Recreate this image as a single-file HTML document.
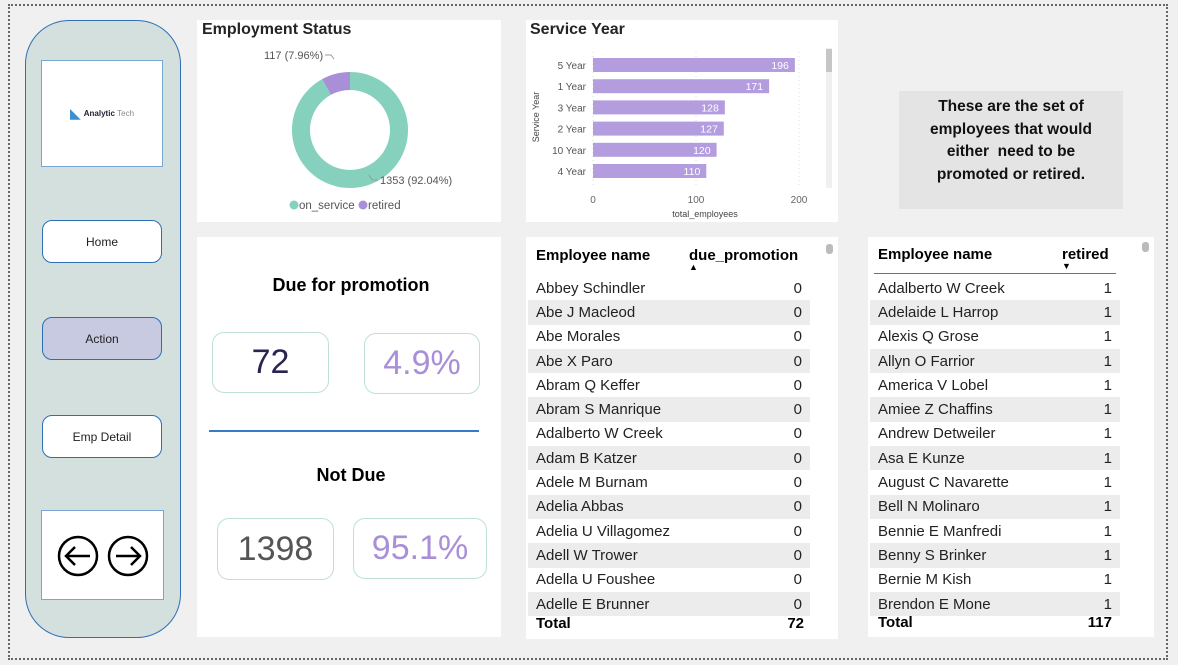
<!DOCTYPE html>
<html><head><meta charset="utf-8">
<style>
body{margin:0;width:1178px;height:665px;background:#f0f0f0;font-family:"Liberation Sans","DejaVu Sans",sans-serif;position:relative;overflow:hidden}
.abs{position:absolute;box-sizing:border-box}
.card{background:#fff}
.btn{background:#fff;border:1px solid #2e6eb5;border-radius:10px;font-size:12px;display:flex;align-items:center;justify-content:center;color:#222}
.kpi{border:1px solid #bfe0d8;border-radius:12px;display:flex;align-items:center;justify-content:center;font-size:34px}
table{border-collapse:collapse;font-size:15px;color:#222}
.tbl td{height:24.3px;padding:0 8px;white-space:nowrap}
.tbl tr:nth-child(even) td{background:#ececec}
</style></head><body>
<div class="abs" style="left:8px;top:4px;width:1160px;height:656px;border:2px dotted #666"></div>

<div class="abs" style="left:25px;top:20px;width:156px;height:618px;background:#d3e0de;border:1.5px solid #2e6eb5;border-radius:44px"></div>
<div class="abs" style="left:41px;top:60px;width:122px;height:107px;background:#fff;border:1.5px solid #7aa3d6;display:flex;align-items:center;justify-content:center;font-size:8px;font-weight:bold;color:#223">
<span style="color:#3a8fd0;font-size:14px;margin-right:3px">◣</span>Analytic <span style="font-weight:normal;color:#888">&nbsp;Tech</span></div>
<div class="abs btn" style="left:42px;top:220px;width:120px;height:43px">Home</div>
<div class="abs btn" style="left:42px;top:317px;width:120px;height:43px;background:#c8cae2">Action</div>
<div class="abs btn" style="left:42px;top:415px;width:120px;height:43px">Emp Detail</div>
<div class="abs" style="left:41px;top:510px;width:123px;height:90px;background:#fff;border:1.5px solid #7aa3d6"></div>
<svg class="abs" style="left:41px;top:510px" width="123" height="90">
<g><circle cx="37" cy="46" r="19" fill="none" stroke="#000" stroke-width="2.5"/><path d="M49 46H26M34 37l-9 9 9 9" fill="none" stroke="#000" stroke-width="2.5"/></g>
<g><circle cx="87" cy="46" r="19" fill="none" stroke="#000" stroke-width="2.5"/><path d="M75 46H98M90 37l9 9-9 9" fill="none" stroke="#000" stroke-width="2.5"/></g>
</svg>

<div class="abs card" style="left:197px;top:20px;width:304px;height:202px"></div>
<div class="abs" style="left:202px;top:21px;font-size:16px;font-weight:bold;color:#252423">Employment Status</div>
<svg class="abs" id="donut" style="left:197px;top:20px" width="304" height="202"></svg>

<div class="abs card" style="left:526px;top:20px;width:312px;height:202px"></div>
<div class="abs" style="left:530px;top:21px;font-size:16px;font-weight:bold;color:#252423">Service Year</div>
<svg class="abs" id="bars" style="left:526px;top:20px" width="312" height="202"></svg>

<div class="abs" style="left:899px;top:91px;width:224px;height:118px;background:#e4e4e4;font-size:15.5px;font-weight:bold;text-align:center;line-height:22.5px;padding:5px 14px 0;color:#111">These are the set of employees that would either&nbsp; need to be promoted or retired.</div>

<div class="abs card" style="left:197px;top:237px;width:304px;height:400px"></div>
<div class="abs" style="left:197px;top:275px;width:308px;text-align:center;font-size:18px;font-weight:bold">Due for promotion</div>
<div class="abs kpi" style="left:212px;top:332px;width:117px;height:61px;color:#2b2450">72</div>
<div class="abs kpi" style="left:364px;top:333px;width:116px;height:61px;color:#a98fd8">4.9%</div>
<div class="abs" style="left:209px;top:430px;width:270px;height:2px;background:#3a7bc8"></div>
<div class="abs" style="left:197px;top:465px;width:308px;text-align:center;font-size:18px;font-weight:bold">Not Due</div>
<div class="abs kpi" style="left:217px;top:518px;width:117px;height:62px;color:#555">1398</div>
<div class="abs kpi" style="left:353px;top:518px;width:134px;height:61px;color:#a98fd8">95.1%</div>

<div class="abs card" style="left:526px;top:237px;width:312px;height:402px"></div>
<div class="abs" style="left:536px;top:247px;font-size:15px;font-weight:bold">Employee name</div>
<div class="abs" style="left:689px;top:247px;font-size:15px;font-weight:bold">due_promotion<div style="font-size:9px;margin-top:-2px">▲</div></div>
<div class="abs" style="left:826px;top:244px;width:7px;height:10px;background:#bbb;border-radius:3px"></div>
<table class="abs tbl" id="t1" style="left:528px;top:276px;width:282px"></table>
<div class="abs" style="left:536px;top:615px;width:268px;font-size:15px;font-weight:bold;display:flex;justify-content:space-between"><span>Total</span><span>72</span></div>

<div class="abs card" style="left:868px;top:237px;width:286px;height:400px"></div>
<div class="abs" style="left:878px;top:246px;font-size:15px;font-weight:bold">Employee name</div>
<div class="abs" style="left:1062px;top:246px;font-size:15px;font-weight:bold">retired<div style="font-size:9px;margin-top:-2px">▼</div></div>
<div class="abs" style="left:874px;top:273px;width:242px;height:1px;background:#3a7bc8"></div>
<div class="abs" style="left:1142px;top:242px;width:7px;height:10px;background:#bbb;border-radius:3px"></div>
<table class="abs tbl" id="t2" style="left:870px;top:276px;width:250px"></table>
<div class="abs" style="left:878px;top:614px;width:234px;font-size:15px;font-weight:bold;display:flex;justify-content:space-between"><span>Total</span><span>117</span></div>

<script>
const statusCats=["on_service","retired"];
const statusVals=[1353,117];
const statusColors=["#86d1bd","#a98fd8"];
const yearCats=["5 Year","1 Year","3 Year","2 Year","10 Year","4 Year"];
const yearVals=[196,171,128,127,120,110];
const xTicks=[0,100,200];
const promoNames=["Abbey Schindler","Abe J Macleod","Abe Morales","Abe X Paro","Abram Q Keffer","Abram S Manrique","Adalberto W Creek","Adam B Katzer","Adele M Burnam","Adelia Abbas","Adelia U Villagomez","Adell W Trower","Adella U Foushee","Adelle E Brunner"];
const promoVals=[0,0,0,0,0,0,0,0,0,0,0,0,0,0];
const retNames=["Adalberto W Creek","Adelaide L Harrop","Alexis Q Grose","Allyn O Farrior","America V Lobel","Amiee Z Chaffins","Andrew Detweiler","Asa E Kunze","August C Navarette","Bell N Molinaro","Bennie E Manfredi","Benny S Brinker","Bernie M Kish","Brendon E Mone"];
const retVals=[1,1,1,1,1,1,1,1,1,1,1,1,1,1];
const NS="http://www.w3.org/2000/svg";
function mk(p,t,a,txt){const e=document.createElementNS(NS,t);for(const k in a)e.setAttribute(k,a[k]);if(txt!=null)e.textContent=txt;p.appendChild(e);return e;}
// donut: on_service clockwise from top, retired fills the remaining wedge just left of top
const d=document.getElementById("donut");
const cx=153,cy=110,R=58,r=40,tot=statusVals.reduce((a,b)=>a+b,0);
let ang=0;
statusVals.forEach((v,i)=>{
 const a0=ang,a1=ang+v/tot*2*Math.PI;ang=a1;
 const p=(a,rr)=>[cx+rr*Math.sin(a),cy-rr*Math.cos(a)];
 const [x0,y0]=p(a0,R),[x1,y1]=p(a1,R),[x2,y2]=p(a1,r),[x3,y3]=p(a0,r);
 const lg=(a1-a0)>Math.PI?1:0;
 const el=mk(d,"path",{d:`M${x0},${y0}A${R},${R} 0 ${lg} 1 ${x1},${y1}L${x2},${y2}A${r},${r} 0 ${lg} 0 ${x3},${y3}Z`,fill:statusColors[i]});
 
 
});
let l1=mk(d,"text",{x:67,y:39,"font-size":"11","fill":"#555"},`${statusVals[1]} (${(statusVals[1]/tot*100).toFixed(2)}%)`);

mk(d,"path",{d:"M128,35h6l3,4",stroke:"#999",fill:"none"});
let l2=mk(d,"text",{x:183,y:164,"font-size":"11","fill":"#555"},`${statusVals[0]} (${(statusVals[0]/tot*100).toFixed(2)}%)`);

mk(d,"path",{d:"M172,155l3,5h6",stroke:"#999",fill:"none"});
let lx=[97,166];
statusCats.forEach((c,i)=>{
 const g=mk(d,"g",{});
 
 
 mk(g,"circle",{cx:lx[i],cy:185,r:4.5,fill:statusColors[i]});
 mk(g,"text",{x:lx[i]+5,y:189,"font-size":"11.5",fill:"#555"},c);
});
// bars
const b=document.getElementById("bars");
const x0=67,xs=v=>x0+v*1.03,yb=i=>38+i*21.2;
xTicks.forEach(t=>{
 mk(b,"line",{x1:xs(t),x2:xs(t),y1:32,y2:165,stroke:"#ddd","stroke-dasharray":"1,3"});
 const tx=mk(b,"text",{x:xs(t),y:183,"font-size":"10","text-anchor":"middle",fill:"#666"},t);
 
});
yearCats.forEach((c,i)=>{
 const lb=mk(b,"text",{x:60,y:yb(i)+11,"font-size":"10","text-anchor":"end",fill:"#555"},c);
 
 const rc=mk(b,"rect",{x:x0,y:yb(i),width:xs(yearVals[i])-x0,height:14,fill:"#b39ddf"});
 
 
 mk(b,"text",{x:xs(yearVals[i])-6,y:yb(i)+11,"font-size":"10.5","text-anchor":"end",fill:"#fff"},yearVals[i]);
});
let yt=mk(b,"text",{x:13,y:97,"font-size":"9","text-anchor":"middle",fill:"#444",transform:"rotate(-90 13 97)"},"Service Year");

let xt=mk(b,"text",{x:179,y:197,"font-size":"9","text-anchor":"middle",fill:"#444"},"total_employees");

mk(b,"rect",{x:300,y:28,width:6,height:140,fill:"#f0f0f0"});
mk(b,"rect",{x:300,y:29,width:6,height:23,fill:"#c6c6c6"});
// tables
function fill(id,names,vals){
 const t=document.getElementById(id);
 names.forEach((n,i)=>{
  const tr=document.createElement("tr");
  
  
  tr.innerHTML=`<td>${n}</td><td style="text-align:right">${vals[i]}</td>`;
  t.appendChild(tr);
 });
}
fill("t1",promoNames,promoVals);
fill("t2",retNames,retVals);
</script>
</body></html>
